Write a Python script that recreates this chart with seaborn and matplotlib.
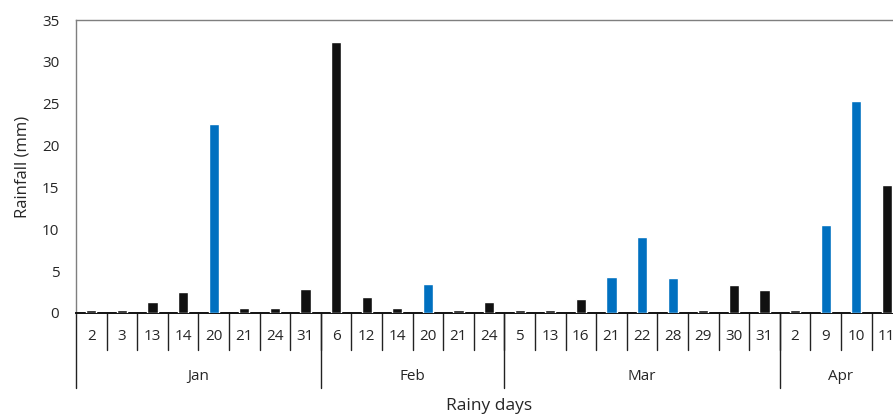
import pandas as pd
import matplotlib.pyplot as plt
import seaborn as sns

sns.set_style("white")
plt.rcParams['font.family'] = ['Open Sans', 'DejaVu Sans']

months = ["Jan", "Feb", "Mar", "Apr"]
jan_days = ["2", "3", "13", "14", "20", "21", "24", "31"]
jan_rain = [0.4, 0.4, 1.3, 2.5, 22.6, 0.6, 0.6, 2.9]
jan_kind = ["dry", "dry", "dry", "dry", "wet", "dry", "dry", "dry"]
feb_days = ["6", "12", "14", "20", "21", "24"]
feb_rain = [32.4, 1.9, 0.6, 3.5, 0.3, 1.3]
feb_kind = ["dry", "dry", "dry", "wet", "dry", "dry"]
mar_days = ["5", "13", "16", "21", "22", "28", "29", "30", "31"]
mar_rain = [0.3, 0.3, 1.7, 4.3, 9.1, 4.2, 0.3, 3.3, 2.7]
mar_kind = ["dry", "dry", "dry", "wet", "wet", "wet", "dry", "dry", "dry"]
apr_days = ["2", "9", "10", "11"]
apr_rain = [0.4, 10.5, 25.3, 15.3]
apr_kind = ["dry", "wet", "wet", "dry"]

day_lists = [jan_days, feb_days, mar_days, apr_days]
rain_lists = [jan_rain, feb_rain, mar_rain, apr_rain]
kind_lists = [jan_kind, feb_kind, mar_kind, apr_kind]

rows = []
for m, d, r, k in zip(months, day_lists, rain_lists, kind_lists):
    for dd, rr, kk in zip(d, r, k):
        rows.append({"Month": m, "Day": dd, "Key": m + "-" + dd, "Rainfall": rr, "Kind": kk})
df = pd.DataFrame(rows)

fig = plt.figure(figsize=(8.93, 4.17), dpi=100)
ax = fig.add_axes([76 / 893, (417 - 313) / 417, 1 - 76 / 893, 293 / 417])

sns.barplot(data=df, x="Key", y="Rainfall", hue="Kind", order=list(df["Key"]),
            palette={"dry": "#111111", "wet": "#0070c0"}, dodge=False, saturation=1,
            width=0.33, legend=False, ax=ax, zorder=3)

n = len(df)
ax.set_xlim(-0.5, 26.2)
ax.set_ylim(0, 35)
ax.set_yticks(range(0, 36, 5))
ax.tick_params(axis="y", length=0, pad=12, labelsize=11)
ax.set_xticks([])
ax.set_xlabel("")
ax.set_ylabel("Rainfall (mm)", fontsize=12, labelpad=8)

for s in ["top", "left"]:
    ax.spines[s].set_color("#7f7f7f")
    ax.spines[s].set_linewidth(1.0)
ax.spines["right"].set_visible(False)
ax.spines["bottom"].set_color("#111111")
ax.spines["bottom"].set_linewidth(1.4)

tr = ax.get_xaxis_transform()
# day labels and separators
for i, day in enumerate(df["Day"]):
    ax.text(i, -0.079, day, transform=tr, ha="center", va="center", fontsize=11, clip_on=False)
    ax.plot([i + 0.5, i + 0.5], [0, -0.126], transform=tr, color="#222222", lw=1.0, clip_on=False)

# month labels and separators
start = 0
ax.plot([-0.5, -0.5], [0, -0.256], transform=tr, color="#222222", lw=1.0, clip_on=False)
for m, d in zip(months, day_lists):
    end = start + len(d)
    ax.text((start + end - 1) / 2, -0.218, m, transform=tr, ha="center", va="center",
            fontsize=11, clip_on=False)
    ax.plot([end - 0.5, end - 0.5], [0, -0.256], transform=tr, color="#222222", lw=1.0, clip_on=False)
    start = end

ax.text((n - 1) / 2, -0.317, "Rainy days", transform=tr, ha="center", va="center",
        fontsize=12.5, clip_on=False)

plt.savefig("out.png", dpi=100)
